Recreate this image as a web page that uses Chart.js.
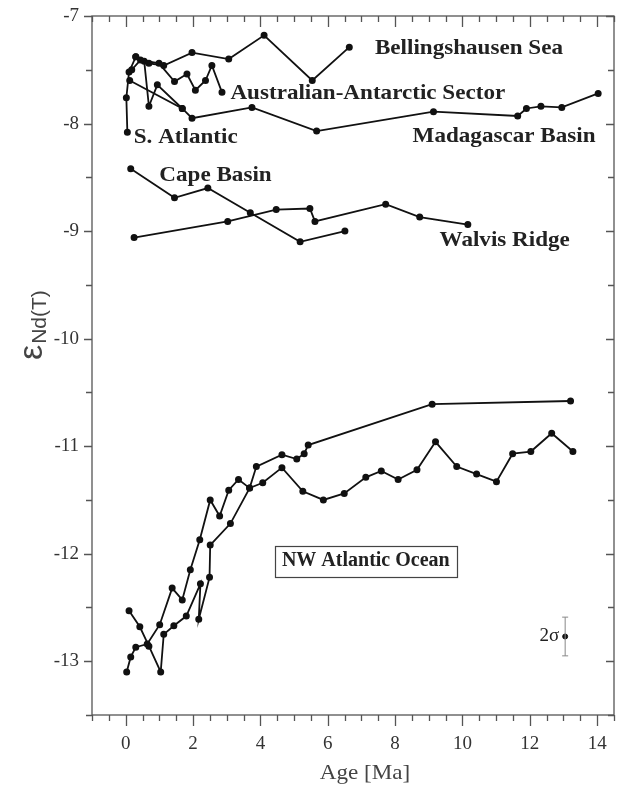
<!DOCTYPE html>
<html>
<head>
<meta charset="utf-8">
<script src="https://cdn.jsdelivr.net/npm/chart.js@4.4.0/dist/chart.umd.min.js"></script>
<style>
  body { margin: 0; background: #fff; }
  #wrap { width: 623px; height: 790px; }
</style>
</head>
<body>
<div id="wrap"><canvas id="ndChart"></canvas></div>
<script>
// Edad (Ma) y eNd(T), una pareja de arrays por serie
const bellAge = [0.3, 0.69, 1.13, 1.97, 3.06, 4.11, 5.54, 6.64];
const bellNd  = [-7.38, -7.44, -7.46, -7.34, -7.40, -7.18, -7.60, -7.29];

const aasAge = [0.18, 0.44, 0.99, 1.45, 1.82, 2.07, 2.37, 2.56, 2.86];
const aasNd  = [-7.50, -7.41, -7.44, -7.61, -7.54, -7.69, -7.60, -7.46, -7.71];

const satlAge = [0.05, 0.02, 0.10, 0.30, 0.55, 0.69, 0.94, 1.68];
const satlNd  = [-8.08, -7.76, -7.52, -7.38, -7.42, -7.84, -7.64, -7.86];

const madAge = [0.12, 1.68, 1.97, 3.75, 5.67, 9.14, 11.64, 11.90, 12.33, 12.95, 14.03];
const madNd  = [-7.60, -7.86, -7.95, -7.85, -8.07, -7.89, -7.93, -7.86, -7.84, -7.85, -7.72];

const capeAge = [0.15, 1.45, 2.44, 3.70, 5.18, 6.51];
const capeNd  = [-8.42, -8.69, -8.60, -8.83, -9.10, -9.00];

const walvAge = [0.25, 3.03, 4.47, 5.47, 5.62, 7.72, 8.73, 10.16];
const walvNd  = [-9.06, -8.91, -8.80, -8.79, -8.91, -8.75, -8.87, -8.94];

const nwa1Age = [0.03, 0.15, 0.30, 0.64, 1.01, 1.38, 1.68, 1.92, 2.20, 2.51, 2.79, 3.06, 3.35, 3.68,
                 4.07, 4.64, 5.26, 5.87, 6.49, 7.13, 7.59, 8.09, 8.65, 9.20, 9.83, 10.42, 11.01,
                 11.49, 12.03, 12.65, 13.28];
const nwa1Nd  = [-13.10, -12.96, -12.87, -12.84, -12.66, -12.32, -12.43, -12.15, -11.87, -11.50,
                 -11.65, -11.41, -11.31, -11.39, -11.34, -11.20, -11.42, -11.50, -11.44, -11.29,
                 -11.23, -11.31, -11.22, -10.96, -11.19, -11.26, -11.33, -11.07, -11.05, -10.88, -11.05];

const nwa2Age = [0.10, 0.42, 0.69, 1.04, 1.13, 1.43, 1.80, 2.22, 2.17, 2.49, 2.51, 3.11, 3.68, 3.88,
                 4.64, 5.08, 5.30, 5.42, 9.10, 13.21];
const nwa2Nd  = [-12.53, -12.68, -12.86, -13.10, -12.75, -12.67, -12.58, -12.28, -12.61, -12.22,
                 -11.92, -11.72, -11.39, -11.19, -11.08, -11.12, -11.07, -10.99, -10.61, -10.58];

// barra de error 2 sigma
const sigmaAge = 13.05;
const sigmaNd = -12.77;
const sigmaErr = 0.18;

// ejes
const xMin = -1, xMax = 14.5;
const yMin = -13.5, yMax = -7;
const xTicks = [0, 2, 4, 6, 8, 10, 12, 14];
const yTicks = [-13, -12, -11, -10, -9, -8, -7];

// rotulos de las regiones (posicion en unidades de datos)
const regionNames = ['Bellingshausen Sea', 'Australian-Antarctic Sector', 'Madagascar Basin',
                     'S. Atlantic', 'Cape Basin', 'Walvis Ridge'];
const regionAge = [7.40, 3.11, 8.52, 0.24, 1.00, 9.32];
const regionNd  = [-7.30, -7.72, -8.12, -8.13, -8.48, -9.09];

const toPoints = (ages, nds) => ages.map((a, i) => ({ x: a, y: nds[i] }));
const serie = (ages, nds) => ({
    data: toPoints(ages, nds),
    showLine: true,
    borderColor: '#111',
    backgroundColor: '#111',
    borderWidth: 1.8,
    pointRadius: 2.6,
    pointHoverRadius: 2.6
});

const fuenteSerif = "'Liberation Serif', 'Times New Roman', serif";

// texto algo ensanchado, como en la figura original
function textoAncho(ctx, t, px, py, sx) {
    ctx.save();
    ctx.translate(px, py);
    ctx.scale(sx, 1);
    ctx.fillText(t, 0, 0);
    ctx.restore();
}

// marco con ticks mayores y menores en los cuatro lados
const marcoPlugin = {
    id: 'marco',
    afterDraw(chart) {
        const { ctx, chartArea: a, scales: { x, y } } = chart;
        ctx.save();
        ctx.strokeStyle = '#555';
        ctx.lineWidth = 1.3;
        ctx.strokeRect(a.left, a.top, a.right - a.left, a.bottom - a.top);
        ctx.beginPath();
        for (let v = xMin; v <= xMax + 1e-9; v += 0.5) {
            const px = Math.round(x.getPixelForValue(v)) + 0.5;
            const len = xTicks.includes(v) ? 11 : 6;
            ctx.moveTo(px, a.bottom); ctx.lineTo(px, a.bottom + len);
            ctx.moveTo(px, a.top); ctx.lineTo(px, a.top + len);
        }
        for (let v = yMin; v <= yMax + 1e-9; v += 0.5) {
            const py = Math.round(y.getPixelForValue(v)) + 0.5;
            const len = yTicks.includes(v) ? 8 : 6;
            ctx.moveTo(a.left - len, py); ctx.lineTo(a.left, py);
            ctx.moveTo(a.right, py); ctx.lineTo(a.right - len, py);
        }
        ctx.stroke();
        ctx.restore();
    }
};

// textos: rotulos, recuadro NW Atlantic, 2 sigma y titulos de ejes
const textosPlugin = {
    id: 'textos',
    afterDraw(chart) {
        const { ctx, scales: { x, y } } = chart;
        ctx.save();
        ctx.fillStyle = '#222';
        ctx.textBaseline = 'middle';
        ctx.font = 'bold 21px ' + fuenteSerif;
        regionNames.forEach((t, i) => {
            textoAncho(ctx, t, x.getPixelForValue(regionAge[i]), y.getPixelForValue(regionNd[i]), 1.1);
        });

        // recuadro
        const cx = x.getPixelForValue(7.13), cy = y.getPixelForValue(-12.07);
        ctx.font = 'bold 20px ' + fuenteSerif;
        ctx.textAlign = 'center';
        ctx.fillText('NW Atlantic Ocean', cx, cy);
        const w = ctx.measureText('NW Atlantic Ocean').width;
        ctx.strokeStyle = '#444';
        ctx.lineWidth = 1.2;
        ctx.strokeRect(Math.round(cx - w / 2 - 7) + 0.5, Math.round(cy - 15) + 0.5, Math.round(w + 14), 31);

        // 2 sigma
        ctx.font = '19px ' + fuenteSerif;
        ctx.textAlign = 'right';
        ctx.fillText('2σ', x.getPixelForValue(sigmaAge) - 6, y.getPixelForValue(sigmaNd));

        // titulo eje x
        ctx.fillStyle = '#444';
        ctx.textAlign = 'center';
        ctx.textBaseline = 'alphabetic';
        ctx.font = '21px ' + fuenteSerif;
        textoAncho(ctx, 'Age [Ma]', 365, 779, 1.1);

        // titulo eje y: epsilon con subindice Nd(T)
        ctx.translate(42, 360);
        ctx.rotate(-Math.PI / 2);
        ctx.textAlign = 'left';
        ctx.font = "34px 'Liberation Sans', sans-serif";
        ctx.fillText('ε', 0, 0);
        const we = ctx.measureText('ε').width;
        ctx.font = "21px 'Liberation Sans', sans-serif";
        ctx.fillText('Nd(T)', we + 1, 4);
        ctx.restore();
    }
};

const ndChart = new Chart(document.getElementById('ndChart'), {
    type: 'scatter',
    data: {
        datasets: [
            serie(bellAge, bellNd),
            serie(aasAge, aasNd),
            serie(satlAge, satlNd),
            serie(madAge, madNd),
            serie(capeAge, capeNd),
            serie(walvAge, walvNd),
            serie(nwa1Age, nwa1Nd),
            serie(nwa2Age, nwa2Nd),
            {
                data: [{ x: sigmaAge, y: sigmaNd - sigmaErr }, { x: sigmaAge, y: sigmaNd + sigmaErr }],
                showLine: true,
                borderColor: '#888',
                borderWidth: 1,
                pointStyle: 'line',
                pointRadius: 3,
                pointBorderWidth: 1,
                pointBorderColor: '#888'
            },
            {
                data: [{ x: sigmaAge, y: sigmaNd }],
                backgroundColor: '#111',
                borderColor: '#111',
                pointRadius: 2.5
            }
        ]
    },
    options: {
        responsive: true,
        maintainAspectRatio: false,
        animation: false,
        events: [],
        layout: { padding: { top: 16, right: 9, left: 0, bottom: 0 } },
        plugins: {
            legend: { display: false },
            tooltip: { enabled: false }
        },
        scales: {
            x: {
                type: 'linear',
                min: xMin,
                max: xMax,
                afterBuildTicks: s => { s.ticks = xTicks.map(v => ({ value: v })); },
                afterFit: s => { s.height = 75; s.paddingLeft = 0; s.paddingRight = 0; },
                grid: { display: false, drawTicks: false },
                border: { display: false },
                ticks: {
                    padding: 18,
                    color: '#333',
                    font: { family: fuenteSerif, size: 19 },
                    callback: v => String(v)
                }
            },
            y: {
                type: 'linear',
                min: yMin,
                max: yMax,
                afterBuildTicks: s => { s.ticks = yTicks.map(v => ({ value: v })); },
                afterFit: s => { s.width = 92; s.paddingTop = 0; s.paddingBottom = 0; },
                grid: { display: false, drawTicks: false },
                border: { display: false },
                ticks: {
                    padding: 13,
                    color: '#333',
                    font: { family: fuenteSerif, size: 19 },
                    callback: v => String(v)
                }
            }
        }
    },
    plugins: [marcoPlugin, textosPlugin]
});
</script>
</body>
</html>
